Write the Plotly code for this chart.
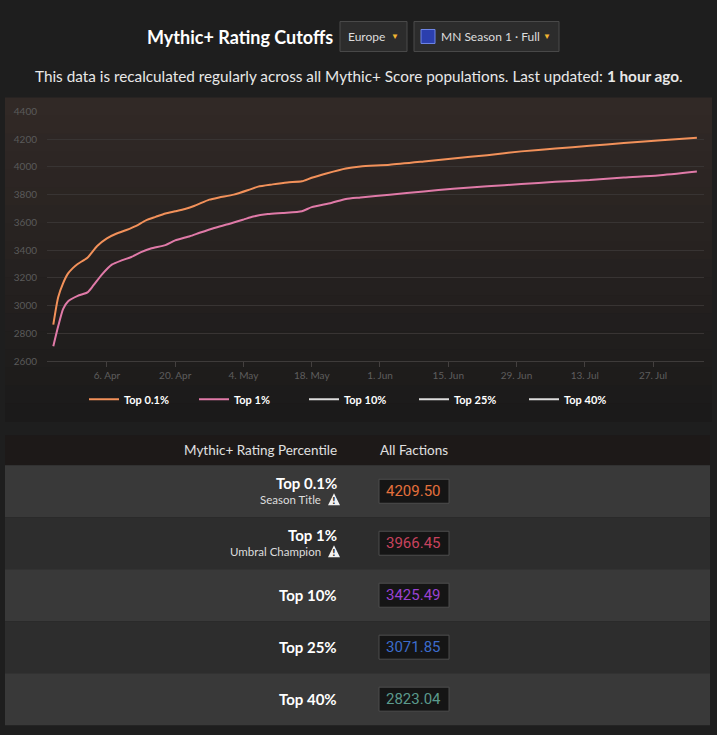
import plotly.graph_objects as go

# Mythic+ rating cutoffs, Europe, MN Season 1
dates_top01 = ["2026-03-26", "2026-03-27", "2026-03-28", "2026-03-29", "2026-03-30",
               "2026-03-31", "2026-04-02", "2026-04-04", "2026-04-06", "2026-04-08",
               "2026-04-10", "2026-04-12", "2026-04-14", "2026-04-16", "2026-04-18",
               "2026-04-20", "2026-04-22", "2026-04-24", "2026-04-27", "2026-04-29",
               "2026-05-02", "2026-05-05", "2026-05-07", "2026-05-10", "2026-05-13",
               "2026-05-16", "2026-05-18", "2026-05-21", "2026-05-25", "2026-05-28",
               "2026-06-03", "2026-06-10", "2026-06-16", "2026-06-23", "2026-06-30",
               "2026-07-07", "2026-07-14", "2026-07-21", "2026-07-28", "2026-08-05"]
rating_top01 = [2862, 3060, 3160, 3230, 3270, 3300, 3345, 3430, 3485, 3520,
                3545, 3575, 3615, 3640, 3664, 3680, 3697, 3720, 3764, 3780,
                3800, 3833, 3858, 3874, 3888, 3896, 3922, 3953, 3989, 4003,
                4015, 4039, 4061, 4085, 4112, 4133, 4152, 4172, 4191, 4209.50]

dates_top1 = ["2026-03-26", "2026-03-27", "2026-03-28", "2026-03-29", "2026-03-31",
              "2026-04-02", "2026-04-03", "2026-04-05", "2026-04-07", "2026-04-09",
              "2026-04-11", "2026-04-13", "2026-04-15", "2026-04-18", "2026-04-20",
              "2026-04-23", "2026-04-25", "2026-04-28", "2026-05-01", "2026-05-04",
              "2026-05-06", "2026-05-09", "2026-05-12", "2026-05-16", "2026-05-18",
              "2026-05-22", "2026-05-25", "2026-05-28", "2026-06-03", "2026-06-10",
              "2026-06-16", "2026-06-23", "2026-06-30", "2026-07-07", "2026-07-14",
              "2026-07-21", "2026-07-28", "2026-08-05"]
rating_top1 = [2706, 2850, 2975, 3030, 3070, 3095, 3135, 3225, 3295, 3326,
               3350, 3385, 3412, 3436, 3470, 3500, 3525, 3560, 3588, 3620,
               3642, 3660, 3668, 3680, 3710, 3740, 3769, 3780, 3800, 3823,
               3843, 3860, 3876, 3893, 3905, 3924, 3938, 3966.45]

hidden_series = ["Top 10%", "Top 25%", "Top 40%"]

percentiles = ["Top 0.1%", "Top 1%", "Top 10%", "Top 25%", "Top 40%"]
rewards = ["Season Title", "Umbral Champion", "", "", ""]
cutoffs = [4209.50, 3966.45, 3425.49, 3071.85, 2823.04]
cutoff_colors = ["#e4703c", "#c8435e", "#9b42d2", "#3c6ccb", "#5b9a8c"]

W, H = 717, 735
FONT = "Lato, Open Sans, sans-serif"


def px(x):
    return x / W


def py(y):
    # screen pixel from top -> paper; the photo squeezes the page slightly in height
    return 1 - ((y - 5.5) / 0.9855) / H


fig = go.Figure()
fig.add_trace(go.Scatter(x=dates_top01, y=rating_top01, name="Top 0.1%", mode="lines",
                         line=dict(color="#f2915a", width=2, shape="spline", smoothing=0.6)))
fig.add_trace(go.Scatter(x=dates_top1, y=rating_top1, name="Top 1%", mode="lines",
                         line=dict(color="#e07aa8", width=2, shape="spline", smoothing=0.6)))
for name in hidden_series:
    fig.add_trace(go.Scatter(x=[None], y=[None], name=name, mode="lines",
                             line=dict(color="#dddddd", width=2)))

shapes = []
# chart panel, dark gradient in bands
top, bottom, n = 97, 421, 18
c0, c1 = (0x31, 0x29, 0x26), (0x1b, 0x1a, 0x1a)
for i in range(n):
    t = i / (n - 1)
    col = "rgb(%d,%d,%d)" % tuple(round(a + (b - a) * t) for a, b in zip(c0, c1))
    y0 = top + (bottom - top) * i / n
    y1 = top + (bottom - top) * (i + 1) / n
    shapes.append(dict(type="rect", xref="paper", yref="paper", layer="below",
                       x0=px(5), x1=px(712), y0=py(y0), y1=py(y1 + 0.5),
                       fillcolor=col, line=dict(width=0)))

# header drop-downs
shapes.append(dict(type="rect", xref="paper", yref="paper", x0=px(340), x1=px(407),
                   y0=py(21), y1=py(51), fillcolor="#2c2c2c", line=dict(color="#4a4a4a", width=1)))
shapes.append(dict(type="rect", xref="paper", yref="paper", x0=px(414), x1=px(559),
                   y0=py(21), y1=py(51), fillcolor="#2c2c2c", line=dict(color="#4a4a4a", width=1)))
shapes.append(dict(type="rect", xref="paper", yref="paper", x0=px(421), x1=px(435),
                   y0=py(29), y1=py(43), fillcolor="#2b3fae", line=dict(color="#6f86e8", width=1)))

# table
shapes.append(dict(type="rect", xref="paper", yref="paper", x0=px(5), x1=px(710),
                   y0=py(435), y1=py(465), fillcolor="#1d1918", line=dict(width=0)))
row_h = 52
for i in range(len(percentiles)):
    r0 = 465 + i * row_h
    shapes.append(dict(type="rect", xref="paper", yref="paper", x0=px(5), x1=px(710),
                       y0=py(r0), y1=py(r0 + row_h),
                       fillcolor="#393939" if i % 2 == 0 else "#2d2d2d", line=dict(width=0)))
    shapes.append(dict(type="rect", xref="paper", yref="paper", x0=px(379), x1=px(449),
                       y0=py(r0 + 14), y1=py(r0 + 38),
                       fillcolor="#151515", line=dict(color="#4d4d4d", width=1)))
    if rewards[i]:
        # warning triangle next to the reward name
        ty = r0 + 34
        shapes.append(dict(type="path", xref="paper", yref="paper",
                           path="M %f %f L %f %f L %f %f Z" % (px(328), py(ty + 6), px(334), py(ty - 6),
                                                               px(340), py(ty + 6)),
                           fillcolor="#f2f2f2", line=dict(width=0)))

annotations = [
    dict(x=px(240), y=py(37), text="<b>Mythic+ Rating Cutoffs</b>",
         font=dict(size=18, color="#ffffff", family=FONT)),
    dict(x=px(367), y=py(36), text="Europe", font=dict(size=12, color="#dddddd", family=FONT)),
    dict(x=px(395), y=py(36), text="▼", font=dict(size=8, color="#f2b531")),
    dict(x=px(491), y=py(36), text="MN Season 1 · Full", font=dict(size=12, color="#dddddd", family=FONT)),
    dict(x=px(547), y=py(36), text="▼", font=dict(size=8, color="#f2b531")),
    dict(x=px(359), y=py(76),
         text="This data is recalculated regularly across all Mythic+ Score populations. "
              "Last updated: <b>1 hour ago</b>.",
         font=dict(size=15.3, color="#e8e8e8", family=FONT)),
    dict(x=px(339), y=py(450), xanchor="right", text="Mythic+ Rating Percentile",
         font=dict(size=13.5, color="#e0e0e0", family=FONT)),
    dict(x=px(378), y=py(450), xanchor="left", text="All Factions",
         font=dict(size=13.5, color="#e0e0e0", family=FONT)),
]
for i, (label, reward, value) in enumerate(zip(percentiles, rewards, cutoffs)):
    r0 = 465 + i * row_h
    if reward:
        annotations.append(dict(x=px(339), y=py(r0 + 18), xanchor="right", text="<b>%s</b>" % label,
                                font=dict(size=15, color="#ffffff", family=FONT)))
        annotations.append(dict(x=px(323), y=py(r0 + 34), xanchor="right", text=reward,
                                font=dict(size=11.5, color="#dddddd", family=FONT)))
        annotations.append(dict(x=px(334), y=py(r0 + 36), text="<b>!</b>",
                                font=dict(size=8, color="#2a2a2a", family="DejaVu Sans")))
    else:
        annotations.append(dict(x=px(339), y=py(r0 + 26), xanchor="right", text="<b>%s</b>" % label,
                                font=dict(size=15, color="#ffffff", family=FONT)))
    annotations.append(dict(x=px(414), y=py(r0 + 26), text="%.2f" % value,
                            font=dict(size=15, color=cutoff_colors[i], family="Roboto, sans-serif")))

for a in annotations:
    a.update(xref="paper", yref="paper", showarrow=False)
    a.setdefault("xanchor", "center")
    a.setdefault("yanchor", "middle")

fig.update_layout(
    width=W, height=H,
    margin=dict(l=0, r=0, t=0, b=0),
    paper_bgcolor="#1e1e1e",
    plot_bgcolor="rgba(0,0,0,0)",
    font=dict(family=FONT, color="#dddddd"),
    shapes=shapes,
    annotations=annotations,
    showlegend=True,
    legend=dict(orientation="h", x=px(84), xanchor="left", y=py(399), yanchor="middle",
                font=dict(size=11, color="#ffffff", family=FONT, weight="bold"),
                bgcolor="rgba(0,0,0,0)", entrywidth=65, entrywidthmode="pixels",
                itemclick=False, itemdoubleclick=False),
    xaxis=dict(domain=[px(47), px(704)], type="date",
               range=["2026-03-24 17:00", "2026-08-06 11:00"],
               tick0="2026-04-06", dtick=14 * 86400000, tickformat="%-d. %b",
               showgrid=False, zeroline=False, showline=True, linecolor="#3e3b3a",
               ticks="outside", ticklen=5, tickcolor="#44403f",
               tickfont=dict(size=10, color="#5e5e5e")),
    yaxis=dict(domain=[py(360.7), py(111)], range=[2600, 4400], dtick=200,
               gridcolor="#383433", gridwidth=1, zeroline=False, showline=False,
               ticklabelstandoff=9,
               tickfont=dict(size=10, color="#5a5a5a")),
)

# drop the browser's default body margin so the figure fills the window
fig.write_html("out.html", config={"displayModeBar": False},
               post_script="document.body.style.margin='0';document.body.style.overflow='hidden';"
                           "document.body.style.background='#1e1e1e';")
